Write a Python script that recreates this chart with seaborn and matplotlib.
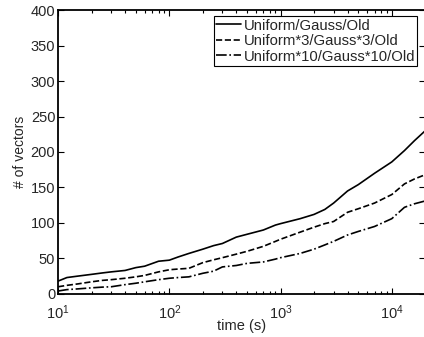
import numpy as np
import pandas as pd
import matplotlib
matplotlib.use("Agg")
import matplotlib.pyplot as plt
import seaborn as sns

# ---- data ----
time_s = [10, 12, 15, 20, 25, 30, 40, 50, 60, 80, 100, 120, 150, 200, 250, 300,
          400, 500, 700, 900, 1000, 1500, 2000, 2500, 3000, 4000, 5000, 7000,
          10000, 13000, 16000, 20000]
uniform_gauss_old = [18, 23, 25, 27.5, 29.5, 31, 33, 37, 39, 46, 47.5, 52, 57, 63, 68, 71,
                     80, 84, 90, 97, 99, 106, 112, 119, 128, 145, 154, 170,
                     186, 202, 216, 230]
uniform3_gauss3_old = [10, 12, 14, 17, 19, 20, 22, 24, 26, 31, 34, 35, 36, 44, 48, 51,
                       56, 60, 67, 74, 77, 87, 94, 99, 102, 115, 120, 128,
                       140, 155, 162, 168]
uniform10_gauss10_old = [4, 6, 7, 8.5, 9.5, 10, 13, 15, 17, 20, 22, 23, 24, 29, 32, 38,
                         40, 43, 45, 49, 51, 57, 63, 69, 74, 83, 88, 95,
                         106, 122, 127, 131]
series_names = ["Uniform/Gauss/Old", "Uniform*3/Gauss*3/Old", "Uniform*10/Gauss*10/Old"]
series_styles = ["-", "--", "-."]

df = pd.DataFrame({
    "time": time_s * 3,
    "vectors": uniform_gauss_old + uniform3_gauss3_old + uniform10_gauss10_old,
    "series": sum([[n] * len(time_s) for n in series_names], []),
})

sns.set_style("ticks")
plt.rcParams["font.family"] = ["Liberation Sans", "DejaVu Sans"]
plt.rcParams["mathtext.fontset"] = "custom"
plt.rcParams["mathtext.rm"] = "Liberation Sans"
plt.rcParams["mathtext.it"] = "Liberation Sans"
plt.rcParams["mathtext.default"] = "regular"

fig = plt.figure(figsize=(4.24, 3.37), dpi=100)
ax = fig.add_axes([0.137, 0.128, 0.866, 0.842])

for name, ls in zip(series_names, series_styles):
    sub = df[df["series"] == name]
    sns.lineplot(data=sub, x="time", y="vectors", ax=ax, color="black",
                 linestyle=ls, linewidth=1.2, label=name, estimator=None)

ax.set_xscale("log")
ax.set_xlim(10, 2e4)
ax.set_ylim(0, 400)
ax.set_yticks(np.arange(0, 401, 50))
ax.set_xlabel("time (s)", fontsize=10.5, labelpad=-2)
ax.set_ylabel("# of vectors", fontsize=10, labelpad=3)
ax.tick_params(which="both", direction="in", top=True, right=True,
               labelsize=10.5, width=0.8, color="black")
ax.tick_params(axis="x", which="major", pad=7)
ax.tick_params(axis="y", which="major", pad=2)
ax.tick_params(which="major", length=4)
ax.tick_params(which="minor", length=2)
for s in ax.spines.values():
    s.set_linewidth(1.3)
    s.set_color("black")

leg = ax.legend(loc="upper right", fontsize=10.7, frameon=True, fancybox=False,
                handlelength=1.7, handletextpad=0.15, borderpad=0.15,
                labelspacing=0.1, borderaxespad=0.0, bbox_to_anchor=(0.978, 0.978))
leg.get_frame().set_edgecolor("black")
leg.get_frame().set_linewidth(0.8)
leg.get_frame().set_alpha(1)

fig.savefig("out.png", dpi=100)
